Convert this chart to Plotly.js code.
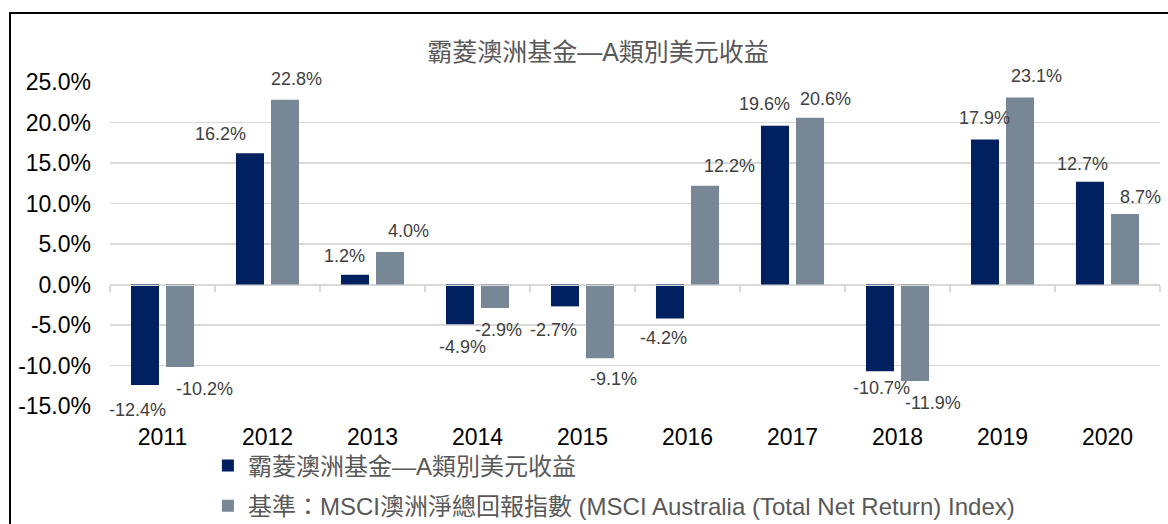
<!DOCTYPE html>
<html>
<head>
<meta charset="utf-8">
<script src="https://cdn.plot.ly/plotly-3.0.1.min.js"></script>
<style>
  html, body { margin: 0; padding: 0; background: #fff; overflow: hidden; }
  #wrap { position: relative; width: 1168px; height: 524px; }
  #chart { position: absolute; left: 0; top: 0; width: 1168px; height: 524px; }
  #frame { position: absolute; left: 9px; top: 12px; width: 1300px; height: 700px;
           border: 2px solid #000; pointer-events: none; box-sizing: border-box; }
</style>
</head>
<body>
<div id="wrap">
  <div id="chart"></div>
  <div id="frame"></div>
</div>
<script>
// ---- data ----
const years = ['2011', '2012', '2013', '2014', '2015', '2016', '2017', '2018', '2019', '2020'];
const fundName = '霸菱澳洲基金—A類別美元收益';
const benchName = '基準：MSCI澳洲淨總回報指數 (MSCI Australia (Total Net Return) Index)';
const fundReturns = [-12.4, 16.2, 1.2, -4.9, -2.7, -4.2, 19.6, -10.7, 17.9, 12.7];
const benchReturns = [-10.2, 22.8, 4.0, -2.9, -9.1, 12.2, 20.6, -11.9, 23.1, 8.7];
const yTickVals = [-15, -10, -5, 0, 5, 10, 15, 20, 25];
const yTickText = ['-15.0%', '-10.0%', '-5.0%', '0.0%', '5.0%', '10.0%', '15.0%', '20.0%', '25.0%'];
const chartTitle = '霸菱澳洲基金—A類別美元收益';

// ---- label placement nudges (styling only, px) ----
const fundNudgeX = [-8, -30, -11, 2, -12, -7, -11, 1, -1, -8];
const fundNudgeY = [25, 19, 19, 23, 24, 19, 22, 17, 22, 18];
const benchNudgeX = [24, 11, 18, 3, 13, 24, 15, 18, 16, 15];
const benchNudgeY = [22, 21, 21, 22, 21, 20, 19, 22, 21, 17];

const FONT = 'Liberation Sans, Arial, "Noto Sans CJK TC", sans-serif';
const NAVY = '#002060';
const GREY = '#778795';
const GRID = '#d9d9d9';

function fmt(v) { return v.toFixed(1) + '%'; }

const traces = [
  { type: 'bar', name: fundName, x: years, y: fundReturns,
    marker: { color: NAVY, line: { width: 0 } }, legendgroup: 'a', hoverinfo: 'x+y' },
  { type: 'bar', name: benchName, x: years, y: benchReturns,
    marker: { color: GREY, line: { width: 0 } }, legendgroup: 'b', hoverinfo: 'x+y' }
];

const annotations = [];
const slotHalf = 17.5;
years.forEach((yr, i) => {
  const f = fundReturns[i];
  annotations.push({ x: i, y: f, xref: 'x', yref: 'y', text: fmt(f), showarrow: false,
    xanchor: 'center', yanchor: 'middle',
    xshift: -slotHalf + fundNudgeX[i], yshift: (f >= 0 ? 1 : -1) * fundNudgeY[i],
    font: { family: FONT, size: 18, color: '#404040' } });
  const b = benchReturns[i];
  annotations.push({ x: i, y: b, xref: 'x', yref: 'y', text: fmt(b), showarrow: false,
    xanchor: 'center', yanchor: 'middle',
    xshift: slotHalf + benchNudgeX[i], yshift: (b >= 0 ? 1 : -1) * benchNudgeY[i],
    font: { family: FONT, size: 18, color: '#404040' } });
});

const layout = {
  width: 1168, height: 524,
  margin: { l: 110, r: 8, t: 82, b: 118, pad: 0, autoexpand: false },
  paper_bgcolor: '#ffffff', plot_bgcolor: '#ffffff',
  font: { family: FONT, color: '#000' },
  title: { text: chartTitle, x: 0.512, xanchor: 'center', xref: 'container',
           y: 0.9, yanchor: 'middle', yref: 'container',
           font: { family: FONT, size: 25, color: '#595959' } },
  barmode: 'group', bargap: 0.333, bargroupgap: 0.2,
  showlegend: true,
  legend: { orientation: 'v', xref: 'container', yref: 'container',
            x: 0.178, xanchor: 'left', y: 0.1536, yanchor: 'top',
            traceorder: 'grouped', tracegroupgap: 6, itemwidth: 30,
            bgcolor: 'rgba(0,0,0,0)',
            font: { family: FONT, size: 24, color: '#595959' } },
  xaxis: { type: 'category', categoryorder: 'array', categoryarray: years,
           range: [-0.5, years.length - 0.5], autorange: false,
           anchor: 'free', position: 0.375,
           showline: true, linecolor: GRID, linewidth: 1.5,
           ticks: 'outside', tickson: 'boundaries', ticklen: 6, tickcolor: GRID, tickwidth: 1.5,
           showgrid: false, zeroline: false, tickangle: 0,
           ticklabelstandoff: 131, automargin: false,
           tickfont: { family: FONT, size: 23, color: '#000' } },
  yaxis: { range: [-15, 25], autorange: false, tickvals: yTickVals, ticktext: yTickText,
           showgrid: true, gridcolor: GRID, gridwidth: 1.5,
           zeroline: true, zerolinecolor: GRID, zerolinewidth: 1.5,
           showline: false, ticks: '', ticklabelstandoff: 18, automargin: false,
           tickfont: { family: FONT, size: 23, color: '#000' } },
  annotations: annotations
};

Plotly.newPlot('chart', traces, layout, { displayModeBar: false, staticPlot: true });
</script>
</body>
</html>
